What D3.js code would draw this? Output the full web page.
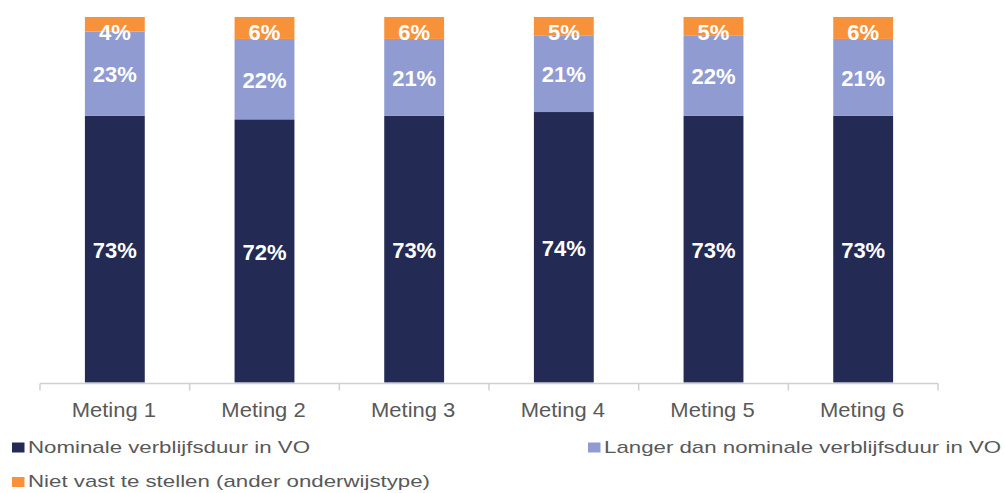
<!DOCTYPE html>
<html>
<head>
<meta charset="utf-8">
<script src="https://cdn.jsdelivr.net/npm/d3@7"></script>
<style>
  html, body { margin: 0; padding: 0; background: #ffffff; }
  svg { display: block; font-family: "Liberation Sans", Arial, sans-serif; }
</style>
</head>
<body>
<svg id="chart" width="1005" height="493"></svg>
<script>
const categories = ["Meting 1", "Meting 2", "Meting 3", "Meting 4", "Meting 5", "Meting 6"];
const seriesNames = ["Nominale verblijfsduur in VO", "Langer dan nominale verblijfsduur in VO", "Niet vast te stellen (ander onderwijstype)"];
const nominale = [73, 72, 73, 74, 73, 73];
const langer = [23, 22, 21, 21, 22, 21];
const nietVast = [4, 6, 6, 5, 5, 6];
const colors = ["#232a54", "#8f9bd1", "#f7923b"];

const svg = d3.select("#chart");
const plot = { left: 40, right: 938, top: 17, bottom: 382.5 };

const x = d3.scaleBand()
  .domain(categories)
  .range([plot.left, plot.right])
  .paddingInner(0.6)
  .paddingOuter(0.3);

const y = d3.scaleLinear().domain([0, 100]).range([plot.bottom, plot.top]);

const rows = categories.map((c, i) => ({ cat: c, s0: nominale[i], s1: langer[i], s2: nietVast[i] }));
const stack = d3.stack().keys(["s0", "s1", "s2"]);
const series = stack(rows);

// bars
series.forEach((s, si) => {
  svg.append("g")
    .selectAll("rect")
    .data(s)
    .join("rect")
    .attr("x", d => x(d.data.cat))
    .attr("width", x.bandwidth())
    .attr("y", d => y(d[1]))
    .attr("height", d => y(d[0]) - y(d[1]))
    .attr("fill", colors[si]);
});

// labels
const minCenter = plot.top + 14.5;
series.forEach((s, si) => {
  svg.append("g")
    .selectAll("text")
    .data(s)
    .join("text")
    .attr("x", d => x(d.data.cat) + x.bandwidth() / 2)
    .attr("y", d => Math.max((y(d[0]) + y(d[1])) / 2, minCenter))
    .attr("dy", "0.4em")
    .attr("text-anchor", "middle")
    .attr("fill", "#ffffff")
    .attr("font-weight", "bold")
    .attr("font-size", "22px")
    .text(d => (d[1] - d[0]) + "%");
});

// x axis line and ticks at category boundaries
const axisG = svg.append("g");
axisG.append("line")
  .attr("x1", plot.left).attr("x2", plot.right)
  .attr("y1", plot.bottom + 1).attr("y2", plot.bottom + 1)
  .attr("stroke", "#d0d0d0").attr("stroke-width", 1.5);
const step = x.step();
const boundaries = d3.range(categories.length + 1).map(i => plot.left + i * (plot.right - plot.left) / categories.length);
axisG.selectAll("line.tick")
  .data(boundaries)
  .join("line")
  .attr("class", "tick")
  .attr("x1", d => d).attr("x2", d => d)
  .attr("y1", plot.bottom + 1).attr("y2", plot.bottom + 8)
  .attr("stroke", "#d0d0d0").attr("stroke-width", 1.5);

axisG.selectAll("g.lab")
  .data(categories)
  .join("g")
  .attr("class", "lab")
  .attr("transform", d => `translate(${x(d) + x.bandwidth() / 2 - 1},416.5) scale(1.1,1)`)
  .append("text")
  .attr("text-anchor", "middle")
  .attr("fill", "#595959")
  .attr("font-size", "20px")
  .text(d => d);

// legend
const legendItems = [
  { name: seriesNames[0], color: colors[0], x: 12, y: 452.5 },
  { name: seriesNames[1], color: colors[1], x: 588, y: 452.5 },
  { name: seriesNames[2], color: colors[2], x: 12, y: 487 }
];
const lg = svg.append("g").selectAll("g").data(legendItems).join("g");
lg.append("rect")
  .attr("x", d => d.x)
  .attr("y", d => d.y - 10)
  .attr("width", 12.5)
  .attr("height", 10)
  .attr("fill", d => d.color);
lg.append("g")
  .attr("transform", d => `translate(${d.x + 16},${d.y}) scale(1.31,1)`)
  .append("text")
  .attr("fill", "#595959")
  .attr("font-size", "17px")
  .text(d => d.name);
</script>
</body>
</html>
